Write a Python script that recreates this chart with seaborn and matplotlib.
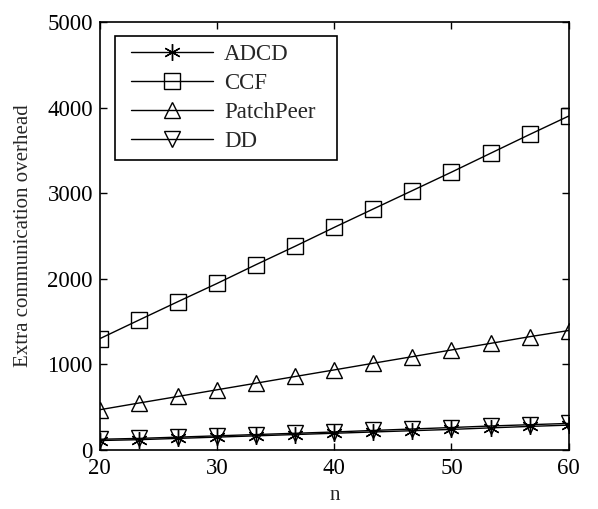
import numpy as np
import pandas as pd
import matplotlib
matplotlib.use("Agg")
import matplotlib.pyplot as plt
from matplotlib.lines import Line2D
from matplotlib.legend_handler import HandlerLine2D
import seaborn as sns

n_values = [20, 23.33, 26.67, 30, 33.33, 36.67, 40, 43.33, 46.67, 50, 53.33, 56.67, 60]
adcd = [110, 120, 135, 150, 165, 180, 195, 210, 225, 240, 258, 275, 290]
ccf = [1300, 1517, 1733, 1945, 2165, 2380, 2600, 2815, 3030, 3245, 3465, 3685, 3900]
patchpeer = [470, 548, 625, 703, 780, 858, 935, 1013, 1090, 1168, 1245, 1323, 1395]
dd = [125, 135, 150, 165, 180, 195, 210, 228, 245, 262, 280, 295, 310]

series = [("ADCD", adcd, (6, 2, 0), 12), ("CCF", ccf, "s", 11),
          ("PatchPeer", patchpeer, "^", 12), ("DD", dd, "v", 12)]

sns.set_style("ticks")
plt.rcParams['font.family'] = ['Liberation Serif', 'DejaVu Serif']
plt.rcParams['mathtext.fontset'] = 'stix'

fig = plt.figure(figsize=(5.98, 5.09), dpi=100)
ax = fig.add_axes([0.167, 0.116, 0.784, 0.841])

for name, vals, mk, ms in series:
    df = pd.DataFrame({"n": n_values, "v": vals})
    sns.lineplot(data=df, x="n", y="v", ax=ax, color="black", linewidth=1.0,
                 marker=mk, markersize=ms, markerfacecolor="none",
                 markeredgecolor="black", markeredgewidth=1.0, label=name)

ax.set_xlim(20, 60)
ax.set_ylim(0, 5000)
ax.set_xticks([20, 30, 40, 50, 60])
ax.set_yticks([0, 1000, 2000, 3000, 4000, 5000])
ax.tick_params(direction="in", length=5, width=1, labelsize=16.5, top=True, right=True,
               colors="black")
ax.tick_params(axis="x", pad=6)
ax.tick_params(axis="y", pad=5)
for s in ax.spines.values():
    s.set_visible(True)
    s.set_linewidth(1.2)
    s.set_color("black")
ax.set_xlabel("n", fontsize=15, labelpad=5)
ax.set_ylabel("Extra communication overhead", fontsize=15, labelpad=10)

leg = ax.legend(loc="upper left", bbox_to_anchor=(0.032, 0.0, 0.473, 0.967), mode="expand",
                fontsize=16.5, frameon=True,
                fancybox=False, edgecolor="black", handlelength=3.95, borderaxespad=0.0,
                labelspacing=0.35, handletextpad=0.47, borderpad=0.35,
                handler_map={Line2D: HandlerLine2D(xpad=0.35)})
leg.get_frame().set_linewidth(1.2)
leg.get_frame().set_alpha(1)

fig.savefig("out.png", dpi=100)
